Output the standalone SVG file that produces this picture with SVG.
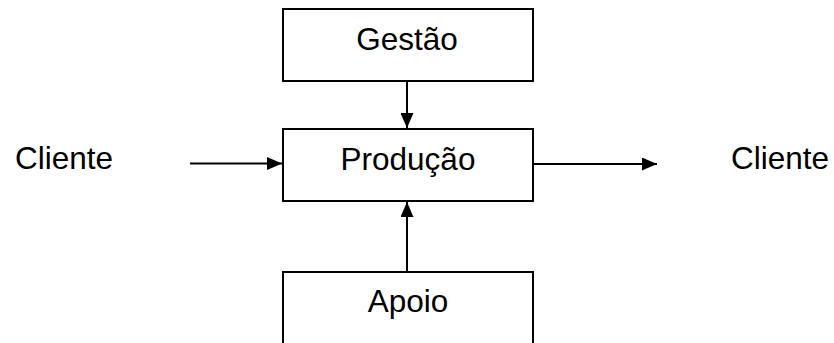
<svg xmlns="http://www.w3.org/2000/svg" width="834" height="343" viewBox="0 0 834 343">
<style>
.box{fill:#fff;stroke:#000;stroke-width:2}
.lbl{font-family:"Liberation Sans",Arial,sans-serif;font-size:31.5px;fill:#000}
.c{text-anchor:middle}
.edge{stroke:#000;stroke-width:2;fill:none;marker-end:url(#ah)}
</style>
<defs>
<marker id="ah" viewBox="0 0 15 13" refX="15" refY="6.5" markerWidth="15" markerHeight="13" markerUnits="userSpaceOnUse" orient="auto">
<path d="M0,0 L15,6.5 L0,13 Z" fill="#000"/>
</marker>
</defs>
<rect width="834" height="343" fill="#fff"/>
<g id="gestao"><rect class="box" x="283" y="9" width="250" height="72"/><text class="lbl c" x="407" y="50">Gestão</text></g>
<g id="producao"><rect class="box" x="283" y="129" width="250" height="72"/><text class="lbl c" x="408" y="170">Produção</text></g>
<g id="apoio"><path class="box" d="M283,350 L283,272 L533,272 L533,350"/><text class="lbl c" x="408" y="312">Apoio</text></g>
<g id="cliente-in"><text class="lbl" x="15" y="169">Cliente</text></g>
<g id="cliente-out"><text class="lbl" x="731" y="169">Cliente</text></g>
<g id="connectors">
<line class="edge" x1="407" y1="81" x2="407" y2="128"/>
<line class="edge" x1="407" y1="272" x2="407" y2="202"/>
<line class="edge" x1="190" y1="163.5" x2="282" y2="163.5"/>
<line class="edge" x1="533" y1="164" x2="657" y2="164"/>
</g>
</svg>
